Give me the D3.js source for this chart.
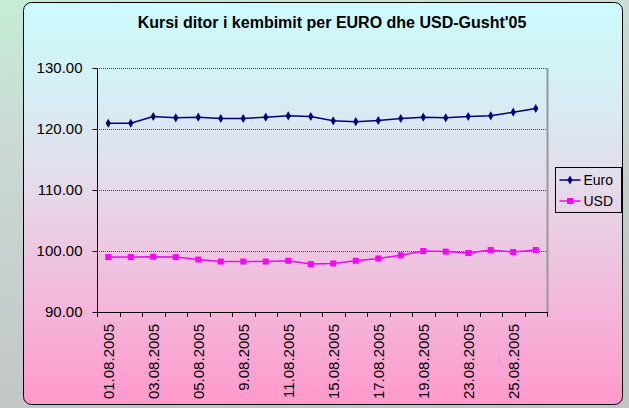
<!DOCTYPE html>
<html>
<head>
<meta charset="utf-8">
<script src="https://cdn.jsdelivr.net/npm/d3@7"></script>
<style>
  body { margin: 0; background: #c8d6d0; }
  svg { display: block; font-family: "Liberation Sans", sans-serif; }
</style>
</head>
<body>
<div id="chart"></div>
<script>
// business days of August 2005
const dates = ['01.08.2005', '02.08.2005', '03.08.2005', '04.08.2005', '05.08.2005',
  '08.08.2005', '9.08.2005', '10.08.2005', '11.08.2005', '12.08.2005',
  '15.08.2005', '16.08.2005', '17.08.2005', '18.08.2005', '19.08.2005',
  '22.08.2005', '23.08.2005', '24.08.2005', '25.08.2005', '26.08.2005'];
const euro = [120.95, 120.95, 122.05, 121.83, 121.94, 121.72, 121.72, 121.94, 122.16, 122.05,
  121.34, 121.2, 121.4, 121.72, 121.94, 121.83, 122.05, 122.16, 122.76, 123.37];
const usd = [99.0, 99.0, 99.07, 99.0, 98.6, 98.27, 98.27, 98.27, 98.4, 97.85,
  97.96, 98.4, 98.77, 99.3, 100.0, 99.9, 99.67, 100.16, 99.84, 100.16];
const yTicks = [90, 100, 110, 120, 130];
const seriesNames = ['Euro', 'USD'];

const width = 629;
const height = 408;
const plot = { left: 97, right: 547, top: 68, bottom: 312 };
const font = '"Liberation Sans", Arial, sans-serif';

const svg = d3.select('#chart')
  .append('svg')
  .attr('width', width)
  .attr('height', height);

const defs = svg.append('defs');

const bg = defs.append('linearGradient')
  .attr('id', 'bg').attr('x1', 0).attr('y1', 0).attr('x2', 0.3).attr('y2', 1);
bg.append('stop').attr('offset', '0%').attr('stop-color', '#c6ecd6');
bg.append('stop').attr('offset', '35%').attr('stop-color', '#cbd8d4');
bg.append('stop').attr('offset', '100%').attr('stop-color', '#c0c4c4');

const panel = defs.append('linearGradient')
  .attr('id', 'panel').attr('x1', 0).attr('y1', 0).attr('x2', 0).attr('y2', 1);
panel.append('stop').attr('offset', '0%').attr('stop-color', '#ccfbfd');
panel.append('stop').attr('offset', '20%').attr('stop-color', '#d4f0f6');
panel.append('stop').attr('offset', '45%').attr('stop-color', '#e4dcea');
panel.append('stop').attr('offset', '100%').attr('stop-color', '#ff99cc');

// page background
svg.append('rect')
  .attr('width', width)
  .attr('height', height)
  .attr('fill', 'url(#bg)');

svg.append('rect')
  .attr('x', 23.5)
  .attr('y', 2.5)
  .attr('width', 599)
  .attr('height', 402)
  .attr('rx', 8)
  .attr('fill', 'url(#panel)')
  .attr('stroke', '#000')
  .attr('stroke-width', 1);

svg.append('text')
  .attr('x', 332)
  .attr('y', 28)
  .attr('text-anchor', 'middle')
  .style('font-family', font)
  .style('font-size', '16px')
  .style('font-weight', 'bold')
  .text("Kursi ditor i kembimit per EURO dhe USD-Gusht'05");

const x = d3.scaleBand()
  .domain(dates)
  .range([plot.left, plot.right]);

const y = d3.scaleLinear()
  .domain([90, 130])
  .range([plot.bottom, plot.top]);

// gridlines
svg.append('g')
  .selectAll('line')
  .data(yTicks.slice(1))
  .enter()
  .append('line')
  .attr('x1', plot.left)
  .attr('x2', plot.right)
  .attr('y1', (d) => Math.round(y(d)) + 0.5)
  .attr('y2', (d) => Math.round(y(d)) + 0.5)
  .attr('stroke', '#444')
  .attr('stroke-dasharray', '1,1');

// right border of plot area
svg.append('line')
  .attr('x1', plot.right + 0.5)
  .attr('x2', plot.right + 0.5)
  .attr('y1', plot.top)
  .attr('y2', plot.bottom)
  .attr('stroke', '#999')
  .attr('stroke-width', 2);

// y axis
const yAxis = svg.append('g')
  .attr('transform', `translate(${plot.left + 0.5},0)`)
  .call(d3.axisLeft(y).tickValues(yTicks).tickFormat(d3.format('.2f')).tickSize(5).tickPadding(10));
yAxis.select('.domain').attr('stroke', '#000').attr('d', `M0,${plot.top}V${plot.bottom}`);
yAxis.selectAll('.tick line').attr('stroke', '#000');
yAxis.selectAll('text')
  .style('font-size', '15px')
  .style('font-family', font)
  .attr('fill', '#000');

// x axis with ticks at category boundaries
const boundaries = dates.map((d) => x(d)).concat([plot.right]);
const xg = svg.append('g');
xg.append('line')
  .attr('x1', plot.left)
  .attr('x2', plot.right)
  .attr('y1', plot.bottom + 0.5)
  .attr('y2', plot.bottom + 0.5)
  .attr('stroke', '#000');
xg.selectAll('.tk')
  .data(boundaries)
  .enter()
  .append('line')
  .attr('class', 'tk')
  .attr('x1', (d) => Math.round(d) + 0.5)
  .attr('x2', (d) => Math.round(d) + 0.5)
  .attr('y1', plot.bottom)
  .attr('y2', plot.bottom + 5)
  .attr('stroke', '#000');
xg.selectAll('.lbl')
  .data(dates.filter((d, i) => i % 2 === 0))
  .enter()
  .append('text')
  .attr('class', 'lbl')
  .attr('transform', (d) => `translate(${x(d) + x.bandwidth() / 2 + 5.5},324) rotate(-90)`)
  .attr('text-anchor', 'end')
  .style('font-family', font)
  .style('font-size', '15px')
  .text((d) => d);

const cx = (d, i) => x(dates[i]) + x.bandwidth() / 2;

const line = d3.line()
  .x((d, i) => cx(d, i))
  .y((d) => y(d));

// Euro
svg.append('path')
  .datum(euro)
  .attr('fill', 'none')
  .attr('stroke', '#000080')
  .attr('stroke-width', 1.5)
  .attr('d', line);
svg.selectAll('.euro')
  .data(euro)
  .enter()
  .append('path')
  .attr('class', 'euro')
  .attr('d', d3.symbol(d3.symbolDiamond, 24))
  .attr('transform', (d, i) => `translate(${cx(d, i)},${y(d)})`)
  .attr('fill', '#000080');

// USD
svg.append('path')
  .datum(usd)
  .attr('fill', 'none')
  .attr('stroke', '#ff00ff')
  .attr('stroke-width', 1.5)
  .attr('d', line);
svg.selectAll('.usd')
  .data(usd)
  .enter()
  .append('rect')
  .attr('class', 'usd')
  .attr('x', (d, i) => cx(d, i) - 3)
  .attr('y', (d) => y(d) - 3)
  .attr('width', 6)
  .attr('height', 6)
  .attr('fill', '#ff00ff');

// legend
const legend = svg.append('g').attr('transform', 'translate(555.5,167.5)');
legend.append('rect')
  .attr('width', 66)
  .attr('height', 45)
  .attr('fill', 'none')
  .attr('stroke', '#000');
const colors = ['#000080', '#ff00ff'];
seriesNames.forEach((name, i) => {
  const ly = 12.5 + i * 21;
  legend.append('line')
    .attr('x1', 4).attr('x2', 25)
    .attr('y1', ly).attr('y2', ly)
    .attr('stroke', colors[i])
    .attr('stroke-width', 1.5);
  if (i === 0) {
    legend.append('path')
      .attr('d', d3.symbol(d3.symbolDiamond, 24))
      .attr('transform', `translate(14.5,${ly})`)
      .attr('fill', colors[i]);
  } else {
    legend.append('rect')
      .attr('x', 11.5).attr('y', ly - 3)
      .attr('width', 6).attr('height', 6)
      .attr('fill', colors[i]);
  }
  legend.append('text')
    .attr('x', 28)
    .attr('y', ly + 5)
    .style('font-family', font)
    .style('font-size', '14px')
    .text(name);
});
</script>
</body>
</html>
